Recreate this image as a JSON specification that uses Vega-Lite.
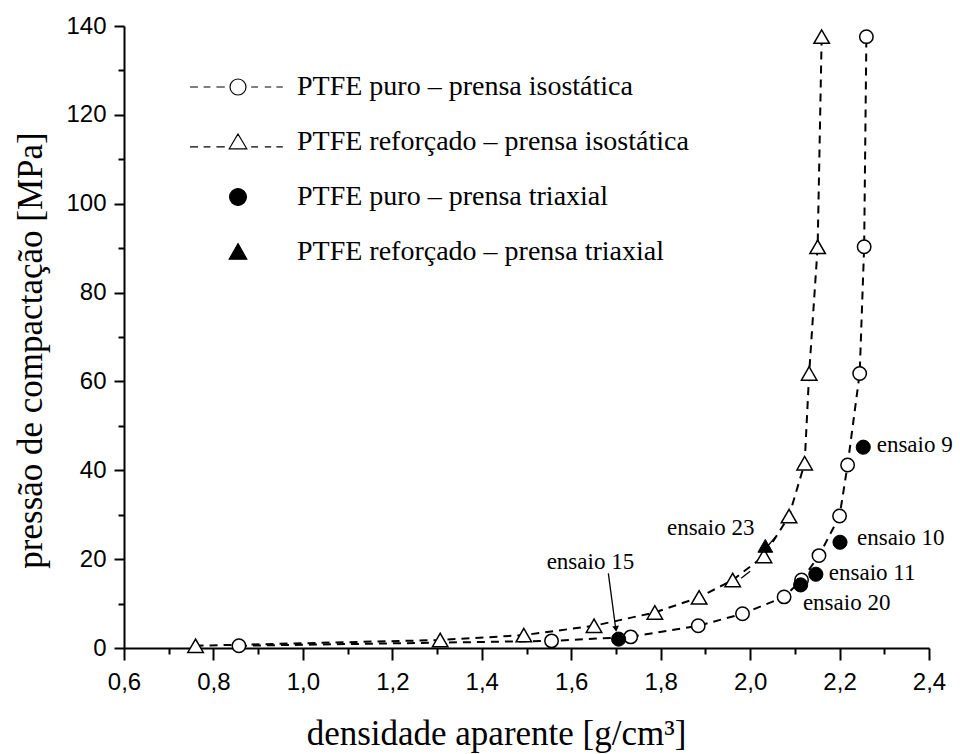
{
  "$schema": "https://vega.github.io/schema/vega-lite/v6.json",
  "width": 805,
  "height": 622,
  "autosize": {"type": "none"},
  "padding": {"left": 124, "top": 26, "right": 31, "bottom": 106},
  "background": "white",
  "config": {"view": {"stroke": null}},
  "datasets": {
    "series": [
      {"serie": "PTFE puro – prensa isostática", "x": 0.857, "y": 0.5},
      {"serie": "PTFE puro – prensa isostática", "x": 1.556, "y": 1.6},
      {"serie": "PTFE puro – prensa isostática", "x": 1.733, "y": 2.5},
      {"serie": "PTFE puro – prensa isostática", "x": 1.884, "y": 5.0},
      {"serie": "PTFE puro – prensa isostática", "x": 1.983, "y": 7.7},
      {"serie": "PTFE puro – prensa isostática", "x": 2.076, "y": 11.5},
      {"serie": "PTFE puro – prensa isostática", "x": 2.115, "y": 15.3},
      {"serie": "PTFE puro – prensa isostática", "x": 2.154, "y": 20.8},
      {"serie": "PTFE puro – prensa isostática", "x": 2.200, "y": 29.7},
      {"serie": "PTFE puro – prensa isostática", "x": 2.218, "y": 41.2},
      {"serie": "PTFE puro – prensa isostática", "x": 2.245, "y": 61.8},
      {"serie": "PTFE puro – prensa isostática", "x": 2.255, "y": 90.3},
      {"serie": "PTFE puro – prensa isostática", "x": 2.260, "y": 137.6},
      {"serie": "PTFE reforçado – prensa isostática", "x": 0.760, "y": 0.5},
      {"serie": "PTFE reforçado – prensa isostática", "x": 1.307, "y": 1.8},
      {"serie": "PTFE reforçado – prensa isostática", "x": 1.494, "y": 2.9},
      {"serie": "PTFE reforçado – prensa isostática", "x": 1.651, "y": 5.0},
      {"serie": "PTFE reforçado – prensa isostática", "x": 1.787, "y": 8.0},
      {"serie": "PTFE reforçado – prensa isostática", "x": 1.886, "y": 11.4},
      {"serie": "PTFE reforçado – prensa isostática", "x": 1.961, "y": 15.3},
      {"serie": "PTFE reforçado – prensa isostática", "x": 2.031, "y": 20.7},
      {"serie": "PTFE reforçado – prensa isostática", "x": 2.087, "y": 29.7},
      {"serie": "PTFE reforçado – prensa isostática", "x": 2.122, "y": 41.6},
      {"serie": "PTFE reforçado – prensa isostática", "x": 2.132, "y": 61.8},
      {"serie": "PTFE reforçado – prensa isostática", "x": 2.151, "y": 90.3},
      {"serie": "PTFE reforçado – prensa isostática", "x": 2.160, "y": 137.6},
      {"serie": "PTFE puro – prensa triaxial", "x": 2.253, "y": 45.2},
      {"serie": "PTFE puro – prensa triaxial", "x": 2.201, "y": 23.8},
      {"serie": "PTFE puro – prensa triaxial", "x": 2.147, "y": 16.6},
      {"serie": "PTFE puro – prensa triaxial", "x": 2.113, "y": 14.2},
      {"serie": "PTFE puro – prensa triaxial", "x": 1.706, "y": 2.0},
      {"serie": "PTFE reforçado – prensa triaxial", "x": 2.034, "y": 23.0}
    ],
    "notes": [
      {"label": "ensaio 9", "x": 2.283, "y": 45.7},
      {"label": "ensaio 10", "x": 2.239, "y": 24.8},
      {"label": "ensaio 11", "x": 2.176, "y": 16.9},
      {"label": "ensaio 20", "x": 2.118, "y": 10.1},
      {"label": "ensaio 23", "x": 1.814, "y": 27.0},
      {"label": "ensaio 15", "x": 1.545, "y": 19.4}
    ],
    "arrows": [
      {"x": 1.683, "y": 16.8, "x2": 1.700, "y2": 4.0},
      {"x": 2.058, "y": 25.2, "x2": 2.035, "y2": 22.4},
      {"x": 2.000, "y": 17.3, "x2": 1.980, "y2": 15.7}
    ],
    "heads": [
      {"x": 1.700, "y": 4.3}
    ]
  },
  "encoding": {
    "x": {
      "field": "x",
      "type": "quantitative",
      "scale": {"domain": [0.6, 2.4], "nice": false, "zero": false},
      "axis": {
        "title": "densidade aparente [g/cm³]",
        "values": [0.6, 0.7, 0.8, 0.9, 1.0, 1.1, 1.2, 1.3, 1.4, 1.5, 1.6, 1.7, 1.8, 1.9, 2.0, 2.1, 2.2, 2.3, 2.4],
        "labelExpr": "round(datum.value*10) % 2 == 0 ? replace(format(datum.value, '.1f'), '.', ',') : ''",
        "tickSize": {"condition": {"test": "round(datum.value*10) % 2 == 1", "value": 6}, "value": 12},
        "grid": false,
        "labelFlush": false,
        "labelOverlap": false,
        "domainColor": "black",
        "domainWidth": 2,
        "tickColor": "black",
        "tickWidth": 2,
        "labelFont": "Liberation Sans",
        "labelFontSize": 24,
        "labelColor": "black",
        "labelPadding": 10,
        "titleFont": "Liberation Serif",
        "titleFontSize": 35,
        "titleFontWeight": "normal",
        "titleColor": "black",
        "titleX": 372,
        "titleY": 96,
        "titleAlign": "center",
        "titleBaseline": "alphabetic"
      }
    },
    "y": {
      "field": "y",
      "type": "quantitative",
      "scale": {"domain": [0, 140], "nice": false},
      "axis": {
        "title": "pressão de compactação [MPa]",
        "values": [0, 10, 20, 30, 40, 50, 60, 70, 80, 90, 100, 110, 120, 130, 140],
        "labelExpr": "datum.value % 20 == 0 ? datum.label : ''",
        "tickSize": {"condition": {"test": "datum.value % 20 != 0", "value": 6}, "value": 10},
        "grid": false,
        "labelOverlap": false,
        "domainColor": "black",
        "domainWidth": 2,
        "tickColor": "black",
        "tickWidth": 2,
        "labelFont": "Liberation Sans",
        "labelFontSize": 24,
        "labelColor": "black",
        "labelPadding": 8,
        "titleFont": "Liberation Serif",
        "titleFontSize": 35,
        "titleFontWeight": "normal",
        "titleColor": "black",
        "titleAngle": -90,
        "titleX": -111,
        "titleY": 324,
        "titleAlign": "center",
        "titleBaseline": "top"
      }
    }
  },
  "layer": [
    {
      "data": {"name": "series"},
      "transform": [{"filter": "indexof(datum.serie, 'isostática') >= 0"}],
      "mark": {"type": "line", "color": "black", "strokeWidth": 2, "strokeDash": [8, 6]},
      "encoding": {"detail": {"field": "serie"}}
    },
    {
      "data": {"name": "series"},
      "transform": [{"filter": "datum.serie == 'PTFE puro – prensa isostática'"}],
      "mark": {"type": "point", "shape": "circle", "filled": true, "fill": "white", "stroke": "black", "strokeWidth": 1.5, "size": 180, "opacity": 1}
    },
    {
      "data": {"name": "series"},
      "transform": [{"filter": "datum.serie == 'PTFE reforçado – prensa isostática'"}],
      "mark": {"type": "point", "shape": "triangle-up", "filled": true, "fill": "white", "stroke": "black", "strokeWidth": 1.5, "size": 240, "opacity": 1}
    },
    {
      "data": {"name": "series"},
      "transform": [{"filter": "datum.serie == 'PTFE puro – prensa triaxial'"}],
      "mark": {"type": "point", "shape": "circle", "filled": true, "fill": "black", "stroke": "black", "strokeWidth": 1, "size": 200, "opacity": 1}
    },
    {
      "data": {"name": "series"},
      "transform": [{"filter": "datum.serie == 'PTFE reforçado – prensa triaxial'"}],
      "mark": {"type": "point", "shape": "triangle-up", "filled": true, "fill": "black", "stroke": "black", "strokeWidth": 1, "size": 220, "opacity": 1}
    },
    {
      "data": {"name": "series"},
      "mark": {"type": "point", "filled": true, "stroke": "black", "strokeWidth": 1.2, "opacity": 0, "size": 256},
      "encoding": {
        "shape": {
          "field": "serie",
          "type": "nominal",
          "scale": {
            "domain": ["PTFE puro – prensa isostática", "PTFE reforçado – prensa isostática", "PTFE puro – prensa triaxial", "PTFE reforçado – prensa triaxial"],
            "range": [
              "M-6,0H-5M-4.3,0H-3.45M-2.7,0H-1.65M1.65,0H2.5M3.35,0H4.15M4.8,0H5.6M1,0A1,1,0,1,1,-1,0A1,1,0,1,1,1,0Z",
              "M-6,0.6H-5M-4.3,0.6H-3.45M-2.7,0.6H-1.65M1.65,0.6H2.5M3.35,0.6H4.15M4.8,0.6H5.6M0,-1L1.1,0.85L-1.1,0.85Z",
              "M1.05,0A1.05,1.05,0,1,1,-1.05,0A1.05,1.05,0,1,1,1.05,0Z",
              "M0,-1.05L1.1,0.9L-1.1,0.9Z"
            ]
          },
          "legend": {
            "orient": "none",
            "legendX": 100,
            "legendY": 47,
            "title": null,
            "padding": 0,
            "symbolSize": 256,
            "symbolStrokeColor": "black",
            "symbolStrokeWidth": 1.2,
            "symbolOpacity": 1,
            "labelFont": "Liberation Serif",
            "labelFontSize": 28,
            "labelColor": "black",
            "labelOffset": 45,
            "labelLimit": 0,
            "rowPadding": 27,
            "encode": {
              "symbols": {
                "update": {
                  "stroke": {"value": "black"},
                  "strokeWidth": {"value": 1.2},
                  "opacity": {"value": 1},
                  "strokeOpacity": {"value": 1}
                }
              }
            }
          }
        },
        "fill": {
          "field": "serie",
          "type": "nominal",
          "scale": {
            "domain": ["PTFE puro – prensa isostática", "PTFE reforçado – prensa isostática", "PTFE puro – prensa triaxial", "PTFE reforçado – prensa triaxial"],
            "range": ["white", "white", "black", "black"]
          },
          "legend": {
            "orient": "none",
            "legendX": 100,
            "legendY": 47,
            "title": null,
            "padding": 0,
            "symbolSize": 256,
            "symbolStrokeColor": "black",
            "symbolStrokeWidth": 1.2,
            "symbolOpacity": 1,
            "labelFont": "Liberation Serif",
            "labelFontSize": 28,
            "labelColor": "black",
            "labelOffset": 45,
            "labelLimit": 0,
            "rowPadding": 27,
            "encode": {
              "symbols": {
                "update": {
                  "stroke": {"value": "black"},
                  "strokeWidth": {"value": 1.2},
                  "opacity": {"value": 1},
                  "strokeOpacity": {"value": 1}
                }
              }
            }
          }
        }
      }
    },
    {
      "data": {"name": "arrows"},
      "mark": {"type": "rule", "color": "black", "strokeWidth": 1.3},
      "encoding": {"x2": {"field": "x2"}, "y2": {"field": "y2"}}
    },
    {
      "data": {"name": "heads"},
      "mark": {"type": "point", "shape": "triangle-down", "filled": true, "color": "black", "size": 45, "angle": 353, "opacity": 1}
    },
    {
      "data": {"name": "notes"},
      "mark": {"type": "text", "align": "left", "baseline": "middle", "font": "Liberation Serif", "fontSize": 23, "color": "black"},
      "encoding": {"text": {"field": "label"}}
    }
  ]
}
